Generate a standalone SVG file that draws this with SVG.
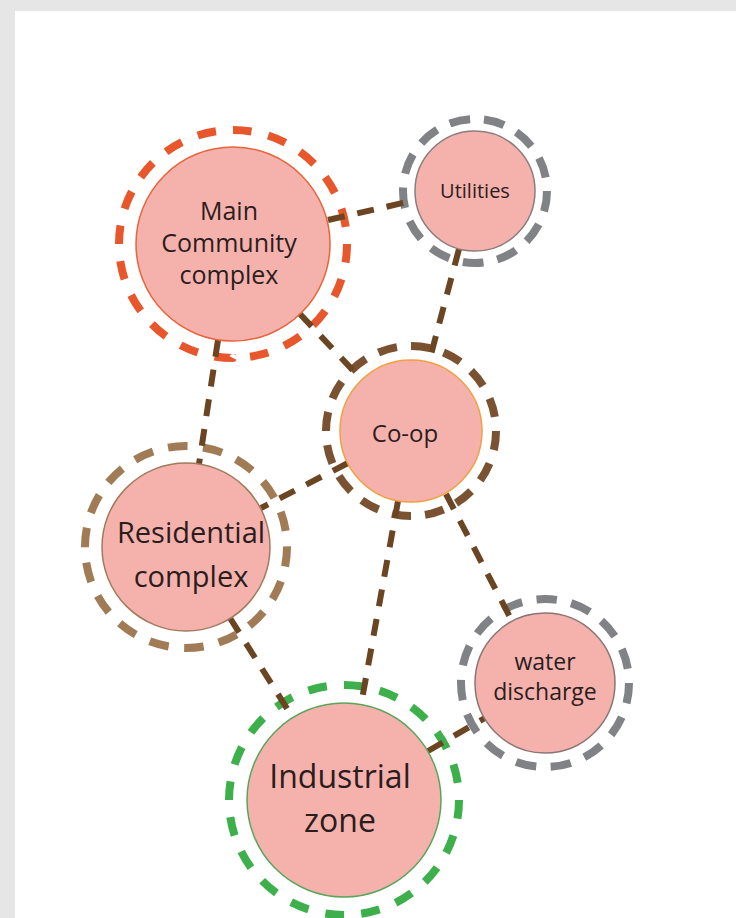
<svg xmlns="http://www.w3.org/2000/svg" width="736" height="918" viewBox="0 0 736 918">
  <style>
    .ring { fill: none; stroke-width: 8; stroke-dasharray: 2.6 2.4; }
    .core { fill: #f5b2ad; stroke-width: 1.5; }
    .link { fill: none; stroke: #6b4422; stroke-width: 6; stroke-dasharray: 17 13; }
    .label { font-family: "Open Sans", "Noto Sans", "Liberation Sans", sans-serif; fill: #2b1d1d; text-anchor: middle; }
  </style>

  <!-- page -->
  <rect x="0" y="0" width="736" height="918" fill="#e6e6e6"/>
  <rect x="15" y="11" width="721" height="907" fill="#ffffff"/>

  <!-- outer dashed rings -->
  <g id="rings">
    <circle cx="233" cy="244" r="114" pathLength="100" class="ring" stroke="#e8562b"/>
    <circle cx="475" cy="191" r="72" pathLength="100" class="ring" stroke="#808286" style="stroke-dasharray:4.6 3.1"/>
    <circle cx="411" cy="431" r="85" pathLength="100" class="ring" stroke="#7b5231" style="stroke-dasharray:3.6 2.65"/>
    <circle cx="186" cy="547" r="101" pathLength="100" class="ring" stroke="#a07b55" style="stroke-dasharray:3.1 2.45"/>
    <circle cx="545" cy="683" r="84" pathLength="100" class="ring" stroke="#808286" style="stroke-dasharray:3.9 2.77"/>
    <circle cx="344" cy="800" r="115" pathLength="100" class="ring" stroke="#3db04b"/>
  </g>

  <!-- connectors -->
  <g id="connectors">
    <line class="link" x1="328" y1="220" x2="416" y2="200"/>
    <line class="link" x1="300" y1="314" x2="362" y2="380"/>
    <line class="link" x1="218" y1="340" x2="199" y2="464"/>
    <line class="link" x1="459" y1="249" x2="429" y2="362"/>
    <line class="link" x1="348" y1="463" x2="261" y2="508"/>
    <line class="link" x1="398" y1="501" x2="361" y2="705"/>
    <line class="link" x1="446" y1="494" x2="512" y2="621"/>
    <line class="link" x1="230" y1="618" x2="293" y2="718"/>
    <line class="link" x1="428" y1="751" x2="485" y2="718"/>
  </g>

  <g id="main-community">
    <circle cx="233" cy="244" r="97" class="core" stroke="#e8643a"/>
    <text class="label" font-size="25"><tspan x="229" y="220">Main</tspan><tspan x="229" y="252">Community</tspan><tspan x="229" y="284">complex</tspan></text>
  </g>

  <g id="utilities">
    <circle cx="475" cy="191" r="60" class="core" stroke="#8a7d7d"/>
    <text class="label" font-size="20" x="475" y="198">Utilities</text>
  </g>

  <g id="co-op">
    <circle cx="411" cy="431" r="71" class="core" stroke="#f0a040"/>
    <text class="label" font-size="24" x="405" y="442">Co-op</text>
  </g>

  <g id="residential">
    <circle cx="186" cy="547" r="84" class="core" stroke="#a07b5b"/>
    <text class="label" font-size="29"><tspan x="191" y="543">Residential</tspan><tspan x="191" y="587">complex</tspan></text>
  </g>

  <g id="water-discharge">
    <circle cx="545" cy="683" r="70" class="core" stroke="#8a7575"/>
    <text class="label" font-size="23"><tspan x="545" y="670">water</tspan><tspan x="545" y="700">discharge</tspan></text>
  </g>

  <g id="industrial">
    <circle cx="344" cy="800" r="97" class="core" stroke="#5aa55a"/>
    <text class="label" font-size="32"><tspan x="340" y="788">Industrial</tspan><tspan x="340" y="832">zone</tspan></text>
  </g>
</svg>
